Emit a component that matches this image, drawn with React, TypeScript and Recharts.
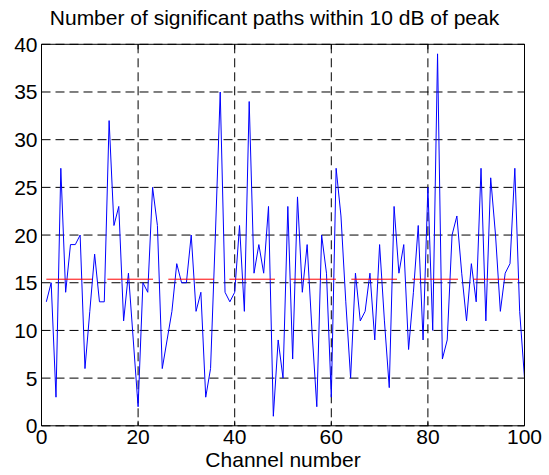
import { CartesianGrid, Line, LineChart, ReferenceLine, XAxis, YAxis } from "recharts";

// channel index 1..100 and number of paths within 10 dB of peak
const channels = [
  1, 2, 3, 4, 5, 6, 7, 8, 9, 10, 11, 12, 13, 14, 15, 16, 17, 18, 19, 20,
  21, 22, 23, 24, 25, 26, 27, 28, 29, 30, 31, 32, 33, 34, 35, 36, 37, 38, 39, 40,
  41, 42, 43, 44, 45, 46, 47, 48, 49, 50, 51, 52, 53, 54, 55, 56, 57, 58, 59, 60,
  61, 62, 63, 64, 65, 66, 67, 68, 69, 70, 71, 72, 73, 74, 75, 76, 77, 78, 79, 80,
  81, 82, 83, 84, 85, 86, 87, 88, 89, 90, 91, 92, 93, 94, 95, 96, 97, 98, 99, 100,
];
const paths = [
  13, 15, 3, 27, 14, 19, 19, 20, 6, 12, 18, 13, 13, 32, 21, 23, 11, 16, 9, 2,
  15, 14, 25, 21, 6, 9, 12, 17, 15, 15, 20, 12, 14, 3, 6, 20, 35, 14, 13, 14,
  21, 12, 34, 16, 19, 16, 23, 1, 9, 5, 23, 7, 24, 14, 19, 10, 2, 20, 16, 3,
  27, 22, 13, 5, 16, 11, 12, 16, 9, 19, 11, 4, 23, 16, 19, 8, 14, 21, 9, 25,
  10, 39, 7, 9, 20, 22, 16, 11, 17, 13, 27, 11, 26, 20, 12, 16, 17, 27, 12, 5,
];
const meanPaths = 15.37;

const xTicks = [0, 20, 40, 60, 80, 100];
const yTicks = [0, 5, 10, 15, 20, 25, 30, 35, 40];

const FONT = "'Liberation Sans', Arial, Helvetica, sans-serif";
const TINY = 0.01; // mirrored tick-only axes must not shift the labelled ones

const rows = channels.map((c, i) => ({ channel: c, paths: paths[i] }));

const blank = () => "";
const labelStyle = { fontSize: 21, fill: "#000", fontFamily: FONT };

export default function App() {
  return (
    <div style={{ position: "absolute", left: 0, top: 0, width: 549, height: 475, background: "#fff", fontFamily: FONT }}>
      <div style={{ position: "absolute", left: 0, width: 549, top: 6, textAlign: "center", fontSize: 21, color: "#000" }}>
        Number of significant paths within 10 dB of peak
      </div>
      <LineChart width={549} height={475} data={rows} margin={{ top: 44.3, right: 24.5, bottom: 19.2, left: 0 }}>
        <CartesianGrid xAxisId="x" yAxisId="y" stroke="#000" strokeDasharray="9 5" />
        {/* inward tick marks on all four sides (matlab style box) */}
        <XAxis xAxisId="xb" dataKey="channel" type="number" domain={[0, 100]} ticks={xTicks} interval={0} height={TINY}
          mirror tickSize={5} tickFormatter={blank} axisLine={false} tickLine={{ stroke: "#000" }} />
        <XAxis xAxisId="xt" orientation="top" dataKey="channel" type="number" domain={[0, 100]} ticks={xTicks} interval={0} height={TINY}
          mirror tickSize={5} tickFormatter={blank} axisLine={{ stroke: "#000" }} tickLine={{ stroke: "#000" }} />
        <YAxis yAxisId="yl" type="number" domain={[0, 40]} ticks={yTicks} interval={0} width={TINY}
          mirror tickSize={5} tickFormatter={blank} axisLine={false} tickLine={{ stroke: "#000" }} />
        <YAxis yAxisId="yr" orientation="right" type="number" domain={[0, 40]} ticks={yTicks} interval={0} width={TINY}
          mirror tickSize={5} tickFormatter={blank} axisLine={{ stroke: "#000" }} tickLine={{ stroke: "#000" }} />
        <XAxis
          xAxisId="x"
          dataKey="channel"
          type="number"
          domain={[0, 100]}
          ticks={xTicks}
          interval={0}
          height={30}
          tickSize={0}
          tickMargin={3}
          axisLine={{ stroke: "#000" }}
          tick={labelStyle}
        />
        <YAxis
          yAxisId="y"
          type="number"
          domain={[0, 40]}
          ticks={yTicks}
          interval={0}
          width={41.5}
          tickSize={0}
          tickMargin={4}
          axisLine={{ stroke: "#000" }}
          tick={labelStyle}
        />
        <Line
          xAxisId="x"
          yAxisId="y"
          type="linear"
          dataKey="paths"
          stroke="#0000ff"
          strokeWidth={1}
          dot={false}
          isAnimationActive={false}
        />
        <ReferenceLine
          xAxisId="x"
          yAxisId="y"
          segment={[{ x: channels[0], y: meanPaths }, { x: channels[channels.length - 1], y: meanPaths }]}
          stroke="#ff0000"
          strokeWidth={1}
          strokeDasharray="45.7 15.3"
        />
      </LineChart>
      <div style={{ position: "absolute", left: 41.5, width: 483, top: 448, textAlign: "center", fontSize: 21, color: "#000" }}>
        Channel number
      </div>
    </div>
  );
}
